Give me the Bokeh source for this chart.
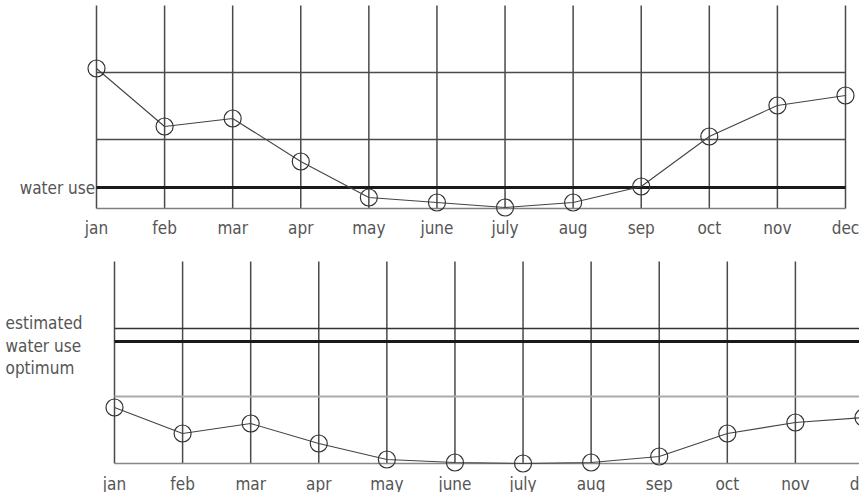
from bokeh.plotting import figure
from bokeh.models import ColumnDataSource, Range1d
from bokeh.layouts import column
from bokeh.core.properties import value
from bokeh.embed import file_html
from bokeh.resources import INLINE

months = ["jan", "feb", "mar", "apr", "may", "june", "july", "aug", "sep", "oct", "nov", "dec"]
month_idx = list(range(len(months)))

# top panel: monthly values (arbitrary units)
top_values = [70, 41, 45, 23.5, 5.5, 3, 0.5, 3, 11, 36, 51.5, 56.5]
top_levels = [68, 34.5, 10.5, 0]           # thin, thin, water use (thick), base
top_level_label = "water use"

# bottom panel
bottom_values = [28, 15, 20, 10, 2, 0.5, 0, 0.5, 3.5, 15, 20.5, 23]
bottom_levels = [67.5, 61, 33.5, 0]        # estimated (thin), water use (thick), grey, base
bottom_labels = ["estimated", "water use", "optimum"]

FONT = value("DejaVu Sans Condensed")
TXT = "#555555"
FS = "17px"
W = 859
STEP = 68.09


def make_panel(height, left_px, top_px, frame_h, values, levels, level_styles):
    ppu = 2.0  # pixels per data unit vertically
    p = figure(width=W, height=height, output_backend="svg", toolbar_location=None,
               min_border=0, min_border_left=0, min_border_right=0,
               min_border_top=0, min_border_bottom=0)
    p.axis.visible = False
    p.grid.visible = False
    p.outline_line_color = None
    p.background_fill_color = "white"
    vmax = frame_h / ppu
    base_px = top_px + frame_h
    p.x_range = Range1d(-left_px / STEP, (W - left_px) / STEP)
    p.y_range = Range1d(-(height - base_px) / ppu, base_px / ppu)
    # vertical month lines
    p.segment(x0=month_idx, x1=month_idx, y0=[0] * 12, y1=[vmax] * 12,
              line_color="#4a4a4a", line_width=1.5)
    # horizontal levels
    src = ColumnDataSource(dict(x0=[0] * len(levels), x1=[11] * len(levels), y=levels,
                                c=[s[0] for s in level_styles], w=[s[1] for s in level_styles]))
    p.segment(x0="x0", x1="x1", y0="y", y1="y", line_color="c", line_width="w", source=src)
    # data
    p.line(month_idx, values, line_color="#444444", line_width=1.1)
    p.scatter(month_idx, values, marker="circle", size=17, fill_color=None,
              line_color="#333333", line_width=1.2)
    return p, ppu


# top figure
H1 = 248
p1, ppu1 = make_panel(H1, 96, 5, 203, top_values, top_levels,
                      [("#4a4a4a", 1.5), ("#4a4a4a", 1.5), ("#1a1a1a", 3.2), ("#808080", 1.5)])
p1.text(x=month_idx, y=[-19 / ppu1] * 12, text=months, text_font=FONT, text_font_size=FS,
        text_color=TXT, text_align="center", text_baseline="middle")
p1.text(x=[-0.02], y=[top_levels[2]], text=[top_level_label], text_font=FONT,
        text_font_size=FS, text_color=TXT, text_align="right", text_baseline="middle")

# bottom figure
H2 = 244
p2, ppu2 = make_panel(H2, 114, 13, 202, bottom_values, bottom_levels,
                      [("#333333", 1.5), ("#1a1a1a", 3.2), ("#aaaaaa", 2), ("#888888", 1.5)])
p2.text(x=month_idx, y=[-20 / ppu2] * 12, text=months, text_font=FONT, text_font_size=FS,
        text_color=TXT, text_align="center", text_baseline="middle")
p2.text(x=[-1.6] * 3, y=[70.5, 59, 48], text=bottom_labels, text_font=FONT,
        text_font_size=FS, text_color=TXT, text_align="left", text_baseline="middle")

layout = column(p1, p2, spacing=0)
open("out.html", "w").write(file_html(layout, INLINE))
